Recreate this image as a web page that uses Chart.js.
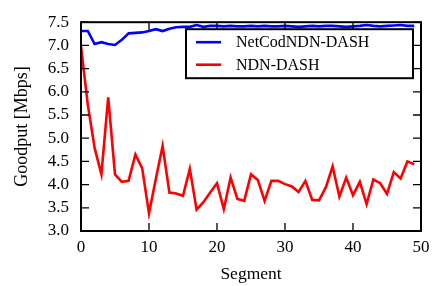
<!DOCTYPE html>
<html>
<head>
<meta charset="utf-8">
<script src="https://cdn.jsdelivr.net/npm/chart.js@4.4.1/dist/chart.umd.min.js"></script>
<style>
  html, body { margin: 0; padding: 0; background: #fff; }
  #wrap { width: 439px; height: 286px; }
</style>
</head>
<body>
<div id="wrap"><canvas id="goodput"></canvas></div>
<script>
var segments = [0,1,2,3,4,5,6,7,8,9,10,11,12,13,14,15,16,17,18,19,20,21,22,23,24,
                25,26,27,28,29,30,31,32,33,34,35,36,37,38,39,40,41,42,43,44,45,46,47,48,49];

var netcodGoodput = [7.31,7.31,7.03,7.07,7.03,7.01,7.12,7.26,7.27,7.28,7.31,7.35,7.31,7.36,7.39,
                     7.40,7.40,7.44,7.40,7.42,7.42,7.41,7.42,7.41,7.41,7.42,7.41,7.42,7.41,7.41,
                     7.42,7.41,7.40,7.41,7.42,7.41,7.42,7.42,7.41,7.40,7.41,7.42,7.44,7.42,7.41,
                     7.42,7.43,7.44,7.42,7.42];

var ndnGoodput = [6.98,5.72,4.79,4.22,5.88,4.22,4.06,4.08,4.65,4.35,3.38,4.12,4.83,3.83,3.81,
                  3.76,4.34,3.46,3.62,3.83,4.03,3.47,4.15,3.69,3.65,4.22,4.10,3.65,4.08,4.08,
                  4.01,3.96,3.84,4.08,3.67,3.66,3.94,4.39,3.74,4.15,3.77,4.06,3.58,4.11,4.03,
                  3.80,4.27,4.13,4.50,4.44];

var xTicks = [0,10,20,30,40,50];
var yTicks = [3.0,3.5,4.0,4.5,5.0,5.5,6.0,6.5,7.0,7.5];

var serif = "'Liberation Serif', 'Times New Roman', serif";

function points(ys) {
  return segments.map(function (s, i) { return {x: s, y: ys[i]}; });
}

// frame, inward ticks on all four sides, and the boxed legend
var framePlugin = {
  id: 'frame',
  afterDatasetsDraw: function (chart) {
    var ctx = chart.ctx, a = chart.chartArea;
    var xs = chart.scales.x, ys = chart.scales.y;
    var tl = 8;
    ctx.save();
    ctx.strokeStyle = '#000';
    ctx.lineWidth = 1.3;
    ctx.beginPath();
    xTicks.forEach(function (v) {
      var px = xs.getPixelForValue(v);
      ctx.moveTo(px, a.bottom); ctx.lineTo(px, a.bottom - tl);
      ctx.moveTo(px, a.top); ctx.lineTo(px, a.top + tl);
    });
    yTicks.forEach(function (v) {
      var py = ys.getPixelForValue(v);
      ctx.moveTo(a.left, py); ctx.lineTo(a.left + tl, py);
      ctx.moveTo(a.right, py); ctx.lineTo(a.right - tl, py);
    });
    ctx.stroke();
    ctx.lineWidth = 2;
    ctx.strokeRect(a.left, a.top, a.right - a.left, a.bottom - a.top);

    // legend
    var bx = 186, by = a.top + 7, bw = a.right - 8 - bx, bh = 49;
    ctx.fillStyle = '#fff';
    ctx.fillRect(bx, by, bw, bh);
    ctx.lineWidth = 2;
    ctx.strokeRect(bx, by, bw, bh);
    ctx.font = '16px ' + serif;
    ctx.textBaseline = 'middle';
    chart.data.datasets.forEach(function (ds, i) {
      var ly = by + 13 + i * 22.5;
      ctx.strokeStyle = ds.borderColor;
      ctx.lineWidth = 2.6;
      ctx.beginPath();
      ctx.moveTo(bx + 10, ly); ctx.lineTo(bx + 35, ly);
      ctx.stroke();
      ctx.fillStyle = '#000';
      ctx.fillText(ds.label, bx + 50, ly + 1);
    });
    ctx.restore();
  }
};

new Chart(document.getElementById('goodput'), {
  type: 'line',
  data: {
    datasets: [{
      label: 'NetCodNDN-DASH',
      data: points(netcodGoodput),
      borderColor: 'rgb(0,0,255)',
      borderWidth: 2.6,
      pointRadius: 0,
      fill: false
    }, {
      label: 'NDN-DASH',
      data: points(ndnGoodput),
      borderColor: 'rgb(255,0,0)',
      borderWidth: 2.6,
      pointRadius: 0,
      fill: false
    }]
  },
  options: {
    responsive: true,
    maintainAspectRatio: false,
    animation: false,
    layout: {padding: {top: 15, right: 18, left: 0, bottom: 0}},
    plugins: {legend: {display: false}, tooltip: {enabled: false}},
    scales: {
      x: {
        type: 'linear',
        min: 0, max: 50,
        afterBuildTicks: function (scale) { scale.ticks = xTicks.map(function (v) { return {value: v}; }); },
        afterFit: function (scale) { scale.height = 55; },
        grid: {display: false, drawTicks: false},
        border: {display: false},
        ticks: {color: '#000', padding: 6, maxRotation: 0, autoSkip: false, font: {family: serif, size: 17}},
        title: {display: true, text: 'Segment', color: '#000', padding: {top: 1, bottom: 1}, font: {family: serif, size: 17.5}}
      },
      y: {
        min: 3.0, max: 7.5,
        afterBuildTicks: function (scale) { scale.ticks = yTicks.map(function (v) { return {value: v}; }); },
        afterFit: function (scale) { scale.width = 81; },
        grid: {display: false, drawTicks: false},
        border: {display: false},
        ticks: {color: '#000', padding: 12, autoSkip: false, font: {family: serif, size: 17},
                callback: function (v) { return v.toFixed(1); }},
        title: {display: true, text: 'Goodput [Mbps]', color: '#000', padding: {top: 11, bottom: 11}, font: {family: serif, size: 18}}
      }
    }
  },
  plugins: [framePlugin]
});
</script>
</body>
</html>
